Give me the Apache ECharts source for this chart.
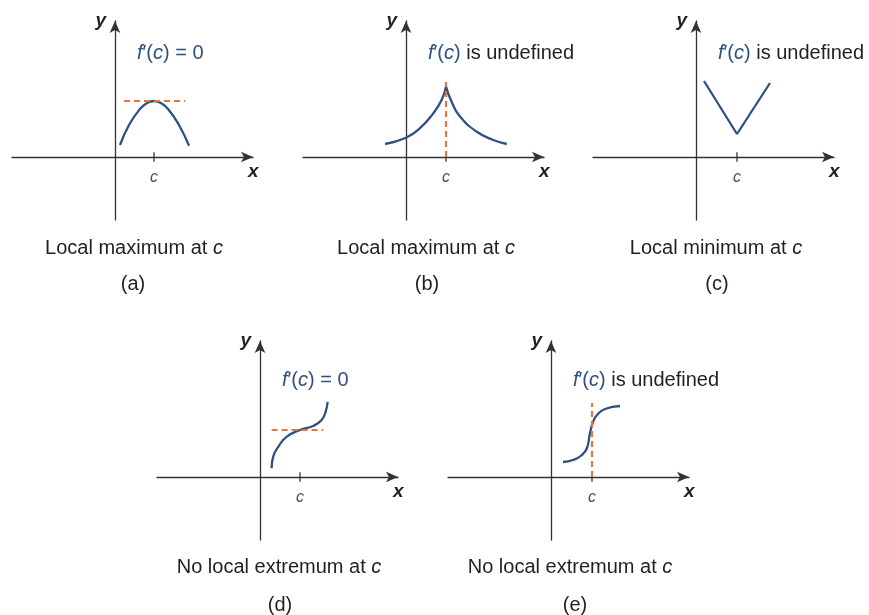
<!DOCTYPE html>
<html>
<head>
<meta charset="utf-8">
<script src="https://cdn.jsdelivr.net/npm/echarts@6/dist/echarts.min.js"></script>
<style>
  html, body { margin: 0; padding: 0; background: #fff; }
  #main { width: 869px; height: 615px; }
</style>
</head>
<body>
<div id="main"></div>
<script>
// values, one unit = the distance from the y axis to c (about 40px)
var tickC = [0.975, 1.0, 1.025, 1.0, 1.025];

// (a) smooth maximum, horizontal tangent
var curveA = [[0.125, 0.3], [0.35, 0.8], [0.6, 1.17], [0.8, 1.35], [0.975, 1.4], [1.15, 1.35], [1.35, 1.17], [1.6, 0.8], [1.85, 0.28]];
var dashA = [[0.225, 1.4], [1.75, 1.4]];

// (b) cusp, two branches
var curveBLeft = [[-0.525, 0.325], [0.0, 0.48], [0.35, 0.72], [0.68, 1.09], [0.89, 1.425], [1.0, 1.76]];
var curveBRight = [[1.0, 1.76], [1.14, 1.38], [1.35, 1.01], [1.77, 0.63], [2.18, 0.425], [2.52, 0.325]];
var dashB = [[1.0, 0], [1.0, 1.875]];

// (c) corner
var curveC = [[0.2, 1.9], [1.025, 0.575], [1.85, 1.85]];

// (d) inflection, horizontal tangent
var curveD = [[0.29, 0.22], [0.33, 0.51], [0.46, 0.76], [0.67, 1.01], [1.0, 1.175], [1.33, 1.275], [1.54, 1.425], [1.64, 1.63], [1.69, 1.88]];
var dashD = [[0.29, 1.175], [1.58, 1.175]];

// (e) vertical tangent
var curveE = [[0.3, 0.375], [0.55, 0.425], [0.775, 0.55], [0.9, 0.725], [0.975, 1.1], [1.05, 1.375], [1.15, 1.55], [1.35, 1.7], [1.725, 1.775]];
var dashE = [[1.025, 0], [1.025, 1.85]];

var panelNames = ['(a)', '(b)', '(c)', '(d)', '(e)'];
var captions = ['Local maximum at ', 'Local maximum at ', 'Local minimum at ', 'No local extremum at ', 'No local extremum at '];
var derivText = ['= 0', 'undefined', 'undefined', '= 0', 'undefined'];

var BLUE = '#2f5081';
var ORANGE = '#e8743b';
var INK = '#231f20';
var FONT = '"Liberation Sans", Arial, sans-serif';

var gridPos = [
  { left: 12, top: 21 },
  { left: 303, top: 21 },
  { left: 593, top: 21 },
  { left: 157, top: 341 },
  { left: 448, top: 341 }
];
// where the texts of each panel sit
var textPos = [
  { fx: 137, fy: 53, cx: 134, cy: 248, px: 133, py: 284 },
  { fx: 428, fy: 53, cx: 426, cy: 248, px: 427, py: 284 },
  { fx: 718, fy: 53, cx: 716, cy: 248, px: 717, py: 284 },
  { fx: 282, fy: 380, cx: 279, cy: 567, px: 280, py: 605 },
  { fx: 573, fy: 380, cx: 570, cy: 567, px: 575, py: 605 }
];

var rich = {
  b: { fill: BLUE, fontSize: 20, fontFamily: FONT },
  bi: { fill: BLUE, fontSize: 20, fontFamily: FONT, fontStyle: 'italic' },
  k: { fill: INK, fontSize: 20, fontFamily: FONT },
  ki: { fill: INK, fontSize: 20, fontFamily: FONT, fontStyle: 'italic' }
};

var grids = [], xAxes = [], yAxes = [], series = [], graphics = [];

gridPos.forEach(function (g, i) {
  grids.push({ left: g.left, top: g.top, width: 241, height: 199 });
  xAxes.push({
    type: 'value', gridIndex: i, min: -2.575, max: 3.45,
    name: 'x', nameLocation: 'end', nameGap: -5,
    nameTextStyle: { fontFamily: FONT, fontSize: 19, fontWeight: 'bold', fontStyle: 'italic', color: INK, align: 'left', verticalAlign: 'top', padding: [5, 0, 0, 0] },
    axisLine: { onZero: true, lineStyle: { color: '#333', width: 1.3 }, symbol: ['none', 'arrow'], symbolSize: [8, 12] },
    axisTick: { show: false },
    splitLine: { show: false },
    axisLabel: { show: false }
  });
  yAxes.push({
    type: 'value', gridIndex: i, min: -1.575, max: 3.4,
    name: 'y', nameLocation: 'end', nameGap: 0,
    nameTextStyle: { fontFamily: FONT, fontSize: 19, fontWeight: 'bold', fontStyle: 'italic', color: INK, align: 'right', verticalAlign: 'middle', padding: [0, 9, 0, 0] },
    axisLine: { onZero: true, lineStyle: { color: '#333', width: 1.3 }, symbol: ['none', 'arrow'], symbolSize: [8, 12] },
    axisTick: { show: false },
    splitLine: { show: false },
    axisLabel: { show: false }
  });
  // tick mark at c
  series.push({
    type: 'line', xAxisIndex: i, yAxisIndex: i, symbol: 'none',
    lineStyle: { color: '#333', width: 1.3 },
    data: [[tickC[i], -0.12], [tickC[i], 0.12]]
  });
  // tick label c
  series.push({
    type: 'scatter', xAxisIndex: i, yAxisIndex: i, symbolSize: 1,
    itemStyle: { color: 'rgba(0,0,0,0)' },
    label: {
      show: true, position: 'bottom', distance: 12, formatter: 'c',
      fontFamily: FONT, fontSize: 16, fontStyle: 'italic', color: INK
    },
    data: [[tickC[i], 0]]
  });

  var t = textPos[i];
  var ftext = derivText[i] === '= 0'
    ? '{bi|f}{b|′(}{bi|c}{b|) = 0}'
    : '{bi|f}{b|′(}{bi|c}{b|)}{k| is undefined}';
  graphics.push({ type: 'text', x: t.fx, y: t.fy, style: { text: ftext, rich: rich, align: 'left', verticalAlign: 'middle' } });
  graphics.push({ type: 'text', x: t.cx, y: t.cy, style: { text: '{k|' + captions[i] + '}{ki|c}', rich: rich, align: 'center', verticalAlign: 'middle' } });
  graphics.push({ type: 'text', x: t.px, y: t.py, style: { text: panelNames[i], fill: INK, fontSize: 20, fontFamily: FONT, align: 'center', verticalAlign: 'middle' } });
});

function curve(idx, data, smooth) {
  return {
    type: 'line', xAxisIndex: idx, yAxisIndex: idx, symbol: 'none', smooth: smooth,
    lineStyle: { color: BLUE, width: 2.3 }, data: data, z: 3
  };
}
function dash(idx, data) {
  return {
    type: 'line', xAxisIndex: idx, yAxisIndex: idx, symbol: 'none',
    lineStyle: { color: ORANGE, width: 2.2, type: [6, 4] }, data: data, z: 4
  };
}

series.push(dash(0, dashA), curve(0, curveA, true));
series.push(curve(1, curveBLeft, true), curve(1, curveBRight, true), dash(1, dashB));
series.push(curve(2, curveC, false));
series.push(dash(3, dashD), curve(3, curveD, true));
series.push(curve(4, curveE, true), dash(4, dashE));

var chart = echarts.init(document.getElementById('main'));
chart.setOption({
  backgroundColor: '#fff',
  animation: false,
  grid: grids,
  xAxis: xAxes,
  yAxis: yAxes,
  series: series,
  graphic: graphics
});
</script>
</body>
</html>
